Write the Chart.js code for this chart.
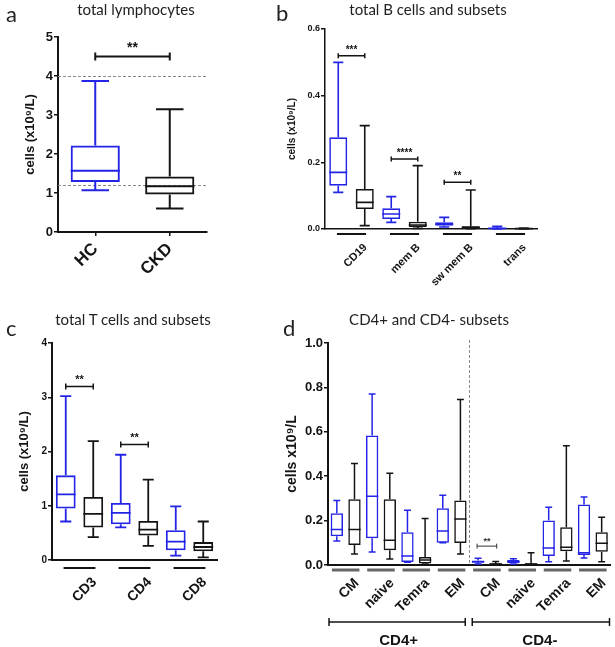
<!DOCTYPE html>
<html>
<head>
<meta charset="utf-8">
<script src="https://cdn.jsdelivr.net/npm/chart.js@4.4.1/dist/chart.umd.min.js"></script>
<style>
  body { margin: 0; width: 615px; height: 647px; background: #fff; position: relative; overflow: hidden; font-family: Lato, sans-serif; }
  .panel { position: absolute; }
  .letter { position: absolute; font-size: 22px; line-height: 22px; color: #222; }
  .title { position: absolute; font-size: 15px; line-height: 15px; color: #222; white-space: nowrap; transform: translateX(-50%); }
</style>
</head>
<body>
<div class="panel" style="left:0;top:0;width:280px;height:320px"><canvas id="chartA"></canvas></div>
<div class="panel" style="left:280px;top:0;width:335px;height:320px"><canvas id="chartB"></canvas></div>
<div class="panel" style="left:0;top:320px;width:280px;height:327px"><canvas id="chartC"></canvas></div>
<div class="panel" style="left:280px;top:320px;width:335px;height:327px"><canvas id="chartD"></canvas></div>

<div class="letter" style="left:6px;top:3px">a</div>
<div class="title" style="left:136px;top:2px">total lymphocytes</div>
<div class="letter" style="left:276px;top:2px">b</div>
<div class="title" style="left:428px;top:2px">total B cells and subsets</div>
<div class="letter" style="left:6px;top:317px">c</div>
<div class="title" style="left:133px;top:312px">total T cells and subsets</div>
<div class="letter" style="left:283px;top:317px">d</div>
<div class="title" style="left:429px;top:312px">CD4+ and CD4- subsets</div>

<script>
// five-number summaries per box: [min, q1, median, q3, max]

// a: total lymphocytes
const lymphLabels = ['HC', 'CKD'];
const lymphHC = [1.07, 1.28, 1.57, 2.22, 3.87];
const lymphCKD = [0.60, 0.96, 1.17, 1.42, 3.15];
const lymphRefLines = [4, 1.2];

// b: B cells
const bSubsets = ['CD19', 'mem B', 'sw mem B', 'trans'];
const bHC = [
  [0.11, 0.13, 0.17, 0.275, 0.50],
  [0.02, 0.03, 0.045, 0.062, 0.097],
  [0.006, 0.01, 0.015, 0.02, 0.035],
  [0.0, 0.001, 0.002, 0.004, 0.008]
];
const bCKD = [
  [0.01, 0.06, 0.08, 0.12, 0.31],
  [0.002, 0.006, 0.012, 0.022, 0.19],
  [0.001, 0.002, 0.005, 0.008, 0.117],
  [0.0, 0.0005, 0.001, 0.002, 0.003]
];

// c: T cells
const cSubsets = ['CD3', 'CD4', 'CD8'];
const cHC = [
  [0.71, 0.95, 1.21, 1.56, 3.02],
  [0.60, 0.66, 0.87, 1.05, 1.94],
  [0.08, 0.18, 0.34, 0.55, 0.99]
];
const cCKD = [
  [0.42, 0.60, 0.85, 1.16, 2.19],
  [0.26, 0.45, 0.56, 0.72, 1.48],
  [0.05, 0.16, 0.24, 0.33, 0.71]
];

// d: CD4+ / CD4- subsets
const dSubsets = ['CM', 'naive', 'Temra', 'EM', 'CM', 'naive', 'Temra', 'EM'];
const dHalves = ['CD4+', 'CD4-'];
const dHC = [
  [0.108, 0.13, 0.16, 0.233, 0.29],
  [0.058, 0.121, 0.31, 0.583, 0.77],
  [0.012, 0.013, 0.04, 0.148, 0.247],
  [0.10, 0.10, 0.153, 0.256, 0.314],
  [0.005, 0.01, 0.015, 0.02, 0.03],
  [0.004, 0.008, 0.015, 0.022, 0.028],
  [0.015, 0.04, 0.077, 0.20, 0.26],
  [0.032, 0.045, 0.055, 0.273, 0.306]
];
const dCKD = [
  [0.049, 0.09, 0.16, 0.296, 0.457],
  [0.027, 0.067, 0.112, 0.296, 0.413],
  [0.005, 0.007, 0.022, 0.036, 0.21],
  [0.05, 0.099, 0.207, 0.29, 0.745],
  [0.0, 0.002, 0.005, 0.008, 0.016],
  [0.0, 0.001, 0.004, 0.008, 0.055],
  [0.018, 0.062, 0.08, 0.17, 0.537],
  [0.015, 0.06, 0.098, 0.148, 0.215]
];

// significance brackets: [left slot, right slot, y value, stars]
const aSig = [[0, 1, 4.5, '**']];
const bSig = [[0, 1, 0.52, '***'], [2, 3, 0.21, '****'], [4, 5, 0.14, '**']];
const cSig = [[0, 1, 3.2, '**'], [2, 3, 2.13, '**']];
const dSig = [[8, 9, 0.085, '**']];

const BLUE = '#2424e6';
const DARK = '#141414';
const AXIS_FONT = '"Liberation Sans", Arial, sans-serif';

function pairSlots(hc, ckd) {
  const slots = [];
  hc.forEach((row, i) => {
    slots.push({ five: row, color: BLUE });
    slots.push({ five: ckd[i], color: DARK });
  });
  return slots;
}

const boxPlot = {
  id: 'boxPlot',
  beforeDatasetsDraw(chart, args, o) {
    const { ctx, chartArea: ca, scales: { x, y } } = chart;
    ctx.save();
    ctx.strokeStyle = '#8a8a8a';
    ctx.lineWidth = 1;
    ctx.setLineDash([3, 2]);
    (o.refLines || []).forEach(v => {
      const yy = Math.round(y.getPixelForValue(v)) + 0.5;
      ctx.beginPath(); ctx.moveTo(ca.left, yy); ctx.lineTo(ca.right, yy); ctx.stroke();
    });
    if (o.divider != null) {
      const xx = Math.round((x.getPixelForValue(o.divider - 1) + x.getPixelForValue(o.divider)) / 2) + 0.5;
      ctx.beginPath(); ctx.moveTo(xx, ca.top - 3); ctx.lineTo(xx, ca.bottom); ctx.stroke();
    }
    ctx.restore();
  },
  afterDatasetsDraw(chart, args, o) {
    const { ctx, chartArea: ca, scales: { x, y } } = chart;
    const meta = chart.getDatasetMeta(0);
    ctx.save();
    // whiskers, caps, medians
    o.slots.forEach((s, i) => {
      const bar = meta.data[i];
      const cx = bar.x, w = bar.width;
      const [mn, q1, md, q3, mx] = s.five.map(v => y.getPixelForValue(v));
      const cap = w * 0.28;
      ctx.strokeStyle = s.color;
      ctx.lineWidth = o.lw;
      ctx.beginPath();
      ctx.moveTo(cx, q3); ctx.lineTo(cx, mx);
      ctx.moveTo(cx, q1); ctx.lineTo(cx, mn);
      ctx.moveTo(cx - cap, mx); ctx.lineTo(cx + cap, mx);
      ctx.moveTo(cx - cap, mn); ctx.lineTo(cx + cap, mn);
      ctx.moveTo(cx - w / 2, md); ctx.lineTo(cx + w / 2, md);
      ctx.stroke();
    });
    // underline under each pair
    if (o.underline) {
      const u = o.underline;
      const step = x.getPixelForValue(1) - x.getPixelForValue(0);
      ctx.strokeStyle = u.color;
      ctx.lineWidth = u.width;
      for (let g = 0; g < o.slots.length / 2; g++) {
        const c = (x.getPixelForValue(2 * g) + x.getPixelForValue(2 * g + 1)) / 2;
        ctx.beginPath();
        ctx.moveTo(c - u.half * step, ca.bottom + u.gap);
        ctx.lineTo(c + u.half * step, ca.bottom + u.gap);
        ctx.stroke();
      }
    }
    // brackets for the CD4+ / CD4- halves
    if (o.halfBrackets) {
      const x3 = chart.scales.x3;
      const yy = x3.top + o.halfBrackets.gap;
      const mid = (x.getPixelForValue(o.divider - 1) + x.getPixelForValue(o.divider)) / 2;
      const spans = [[ca.left + 1, mid - 4], [mid + 3, ca.right - 1]];
      ctx.strokeStyle = DARK;
      ctx.lineWidth = 1.5;
      spans.forEach(([l, r]) => {
        ctx.beginPath();
        ctx.moveTo(l, yy); ctx.lineTo(r, yy);
        ctx.moveTo(l, yy - 4); ctx.lineTo(l, yy + 4);
        ctx.moveTo(r, yy - 4); ctx.lineTo(r, yy + 4);
        ctx.stroke();
      });
    }
    // significance brackets
    const sg = o.sigStyle;
    (o.sig || []).forEach(([a, b, v, txt]) => {
      const x1 = meta.data[a].x - sg.pad, x2 = meta.data[b].x + sg.pad;
      const yy = y.getPixelForValue(v);
      ctx.strokeStyle = sg.color;
      ctx.lineWidth = sg.lw;
      ctx.beginPath();
      ctx.moveTo(x1, yy); ctx.lineTo(x2, yy);
      ctx.moveTo(x1, yy - sg.cap); ctx.lineTo(x1, yy + sg.cap);
      ctx.moveTo(x2, yy - sg.cap); ctx.lineTo(x2, yy + sg.cap);
      ctx.stroke();
      ctx.fillStyle = sg.color;
      ctx.font = 'bold ' + sg.size + 'px ' + AXIS_FONT;
      ctx.textAlign = 'center';
      ctx.textBaseline = 'alphabetic';
      ctx.fillText(txt, (x1 + x2) / 2, yy - sg.lift);
    });
    ctx.restore();
  }
};

function makeBoxChart(id, o) {
  const scales = {
    x: {
      display: !o.groups,
      offset: true,
      ticks: { color: DARK, font: { family: AXIS_FONT, weight: 'bold', size: o.xFont }, maxRotation: 45, minRotation: 45, padding: o.xPad || 2, labelOffset: o.xLabelOffset || 0 },
      grid: { display: true, offset: false, drawOnChartArea: false, drawTicks: true, tickLength: 4, tickColor: DARK, lineWidth: 1.5 },
      border: { color: DARK, width: o.axisW },
      afterFit: s => { s.height = o.groups ? 0 : o.xHeight; }
    },
    y: {
      min: 0, max: o.yMax,
      ticks: { stepSize: o.yStep, color: DARK, padding: 1, font: { family: AXIS_FONT, weight: 'bold', size: o.yFont }, callback: v => v.toFixed(o.dec) },
      grid: { display: true, drawOnChartArea: false, drawTicks: true, tickLength: 4, tickColor: DARK, lineWidth: 1.5 },
      border: { color: DARK, width: o.axisW },
      title: { display: true, text: o.yTitle, color: DARK, font: { family: AXIS_FONT, weight: 'bold', size: o.yTitleSize }, padding: { top: o.yTitlePad, bottom: 0 } },
      afterFit: s => { s.width = o.yWidth; }
    }
  };
  if (o.groups) {
    scales.x2 = {
      type: 'category', labels: o.groups, position: 'bottom', offset: true, weight: 0,
      ticks: { color: DARK, font: { family: AXIS_FONT, weight: 'bold', size: o.xFont }, maxRotation: 45, minRotation: 45, padding: o.xPad, labelOffset: o.xLabelOffset, autoSkip: false },
      grid: { display: true, drawOnChartArea: false, drawTicks: false },
      border: { display: true, color: DARK, width: o.axisW },
      afterFit: s => { s.height = o.xHeight; }
    };
  }
  if (o.halves) {
    scales.x3 = {
      type: 'category', labels: o.halves, position: 'bottom', offset: true, weight: 1,
      ticks: { color: DARK, font: { family: AXIS_FONT, weight: 'bold', size: 15 }, maxRotation: 0, minRotation: 0, padding: o.halvesPad },
      grid: { display: false },
      border: { display: false },
      afterFit: s => { s.height = o.halvesHeight; }
    };
  }
  return new Chart(document.getElementById(id), {
    type: 'bar',
    data: {
      labels: o.labels || o.slots.map((s, i) => String(i)),
      datasets: [{
        data: o.slots.map(s => [s.five[1], s.five[3]]),
        backgroundColor: 'rgba(255,255,255,0)',
        borderColor: o.slots.map(s => s.color),
        borderWidth: o.lw,
        borderSkipped: false,
        categoryPercentage: 1,
        barPercentage: o.boxFrac
      }]
    },
    options: {
      responsive: true,
      maintainAspectRatio: false,
      animation: false,
      layout: { autoPadding: false, padding: o.padding },
      plugins: {
        legend: { display: false },
        tooltip: { enabled: false },
        boxPlot: {
          slots: o.slots, lw: o.lw, refLines: o.refLines, divider: o.divider,
          underline: o.underline, halfBrackets: o.halfBrackets, sig: o.sig, sigStyle: o.sigStyle
        }
      },
      scales: scales
    },
    plugins: [boxPlot]
  });
}

// a
makeBoxChart('chartA', {
  slots: [{ five: lymphHC, color: BLUE }, { five: lymphCKD, color: DARK }],
  labels: lymphLabels,
  yMax: 5, yStep: 1, dec: 0, yFont: 13, xFont: 17, xPad: 3,
  yTitle: 'cells (x10⁹/L)', yTitleSize: 13, yTitlePad: 23, yWidth: 58, xHeight: 88,
  padding: { top: 37, left: 0, right: 73, bottom: 0 },
  axisW: 2, lw: 2, boxFrac: 0.66, refLines: lymphRefLines,
  sig: aSig, sigStyle: { pad: 0, cap: 4, lw: 2, color: DARK, size: 14, lift: 5 }
});

// b
makeBoxChart('chartB', {
  slots: pairSlots(bHC, bCKD), groups: bSubsets,
  yMax: 0.6, yStep: 0.2, dec: 1, yFont: 9, xFont: 11, xPad: 12, xLabelOffset: 14,
  yTitle: 'cells (x10⁹/L)', yTitleSize: 10, yTitlePad: 6, yWidth: 45, xHeight: 91,
  padding: { top: 29, left: 0, right: 78, bottom: 0 },
  axisW: 1.5, lw: 1.6, boxFrac: 0.68,
  underline: { gap: 5, half: 0.55, color: DARK, width: 2 },
  sig: bSig, sigStyle: { pad: 0, cap: 2.5, lw: 1.5, color: DARK, size: 10, lift: 3 }
});

// c
makeBoxChart('chartC', {
  slots: pairSlots(cHC, cCKD), groups: cSubsets,
  yMax: 4, yStep: 1, dec: 0, yFont: 10, xFont: 14, xPad: 14, xLabelOffset: 15,
  yTitle: 'cells (x10⁹/L)', yTitleSize: 13, yTitlePad: 17, yWidth: 52, xHeight: 87,
  padding: { top: 23, left: 0, right: 63, bottom: 0 },
  axisW: 2, lw: 1.8, boxFrac: 0.72,
  underline: { gap: 8, half: 0.58, color: DARK, width: 2 },
  sig: cSig, sigStyle: { pad: 0, cap: 3, lw: 1.5, color: DARK, size: 11, lift: 3 }
});

// d
makeBoxChart('chartD', {
  slots: pairSlots(dHC, dCKD), groups: dSubsets, halves: dHalves,
  yMax: 1.0, yStep: 0.2, dec: 1, yFont: 13, xFont: 14, xPad: 10, xLabelOffset: 11,
  yTitle: 'cells x10⁹/L', yTitleSize: 14, yTitlePad: 4, yWidth: 48, xHeight: 50,
  halvesHeight: 32, halvesPad: 9,
  padding: { top: 23, left: 0, right: 0, bottom: 0 },
  axisW: 2, lw: 1.5, boxFrac: 0.7, divider: 8,
  underline: { gap: 5, half: 0.78, color: '#666', width: 3 },
  halfBrackets: { gap: 7 },
  sig: dSig, sigStyle: { pad: 1, cap: 2.5, lw: 1, color: '#333', size: 9, lift: 2 }
});
</script>
</body>
</html>
